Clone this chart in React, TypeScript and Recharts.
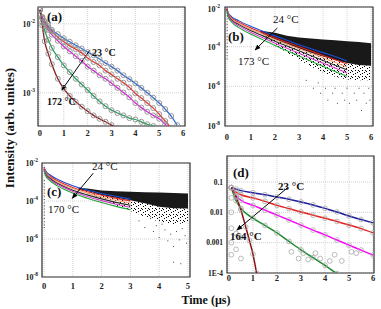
import React from 'react'
import {
  ComposedChart,
  Line,
  Area,
  Scatter,
  XAxis,
  YAxis,
  CartesianGrid,
  ReferenceLine,
  ReferenceArea,
} from 'recharts'

const W = 381
const H = 309
const FONT = '"Liberation Serif", "Times New Roman", serif'

// ---- panel (a): 23 °C -> 172 °C ----
const aT = [0, 0.1, 0.2, 0.35, 0.5, 0.75, 1, 1.25, 1.5, 1.75, 2, 2.25, 2.5, 2.75, 3, 3.25, 3.5, 3.75, 4, 4.25, 4.5, 4.75, 5, 5.25, 5.5, 5.75]
const a23 = [0.016, 0.0126, 0.011, 0.0093, 0.0082, 0.0071, 0.0062, 0.0055, 0.0049, 0.0044, 0.0039, 0.0035, 0.0031, 0.0027, 0.0024, 0.0021, 0.0018, 0.00158, 0.00137, 0.00118, 0.001, 0.00085, 0.00071, 0.00058, 0.00046, 0.00034]
const aRed = [0.016, 0.0124, 0.0106, 0.0089, 0.0078, 0.0064, 0.0055, 0.0048, 0.0043, 0.0038, 0.0032, 0.0028, 0.0025, 0.0021, 0.00185, 0.0016, 0.0014, 0.0012, 0.00098, 0.00084, 0.00071, 0.0006, 0.00049, 0.00039, 0.00031]
const aMagenta = [0.016, 0.012, 0.01, 0.0082, 0.007, 0.0057, 0.0047, 0.004, 0.0034, 0.0029, 0.0024, 0.0021, 0.0018, 0.0016, 0.00138, 0.00118, 0.00101, 0.00086, 0.00071, 0.00061, 0.00053, 0.00047, 0.00042, 0.00035, 0.00028]
const aGreen = [0.016, 0.0105, 0.008, 0.0059, 0.0045, 0.0033, 0.0025, 0.002, 0.0016, 0.00132, 0.0011, 0.0009, 0.00075, 0.00064, 0.00056, 0.00051, 0.00047, 0.00043, 0.00041, 0.00038, 0.00035, 0.00033, 0.00031]
const a172 = [0.016, 0.0095, 0.0056, 0.0037, 0.0026, 0.0016, 0.00115, 0.0009, 0.00074, 0.00063, 0.00054, 0.00047, 0.00042, 0.00038, 0.00034, 0.00031]

// ---- panel (b): 24 °C -> 173 °C ----
const bT = [0, 0.05, 0.2, 0.5, 1, 1.5, 2, 2.5, 3, 3.5, 4, 4.5, 5]
const b24 = [9.5e-3, 5.2e-3, 3.2e-3, 2.0e-3, 1.05e-3, 6.0e-4, 3.5e-4, 2.1e-4, 1.26e-4, 7.9e-5, 5.0e-5, 3.2e-5, 1.9e-5]
const bRed = [8.9e-3, 4.8e-3, 2.75e-3, 1.7e-3, 8.7e-4, 5.0e-4, 2.8e-4, 1.66e-4, 1.0e-4, 6.0e-5, 3.6e-5, 2.2e-5, 1.32e-5]
const bOrange = [8.5e-3, 4.4e-3, 2.5e-3, 1.48e-3, 7.4e-4, 4.2e-4, 2.3e-4, 1.35e-4, 7.9e-5, 4.7e-5, 2.75e-5, 1.62e-5, 9.5e-6]
const bDark = [7.9e-3, 4.0e-3, 2.2e-3, 1.29e-3, 6.3e-4, 3.5e-4, 1.9e-4, 1.07e-4, 6.2e-5, 3.5e-5, 2.0e-5, 1.17e-5, 6.8e-6]
const bMagenta = [7.4e-3, 3.6e-3, 2.0e-3, 1.12e-3, 5.2e-4, 2.8e-4, 1.5e-4, 8.3e-5, 4.7e-5, 2.6e-5, 1.48e-5, 8.3e-6, 4.7e-6]
const b173 = [6.8e-3, 3.2e-3, 1.7e-3, 9.1e-4, 4.2e-4, 2.2e-4, 1.15e-4, 6.2e-5, 3.4e-5, 1.86e-5, 1.02e-5, 5.6e-6, 3.2e-6]
const bCloudT = [1.4, 2, 2.5, 3, 3.5, 4, 4.5, 5, 5.5, 6]
const bCloudTop = [6.3e-4, 5.0e-4, 3.6e-4, 2.9e-4, 2.6e-4, 2.3e-4, 2.1e-4, 1.9e-4, 1.7e-4, 1.5e-4]
const bCloudCore = [5.0e-4, 2.3e-4, 1.3e-4, 8e-5, 5e-5, 3.2e-5, 2.1e-5, 1.5e-5, 1.2e-5, 1.1e-5]
const bCloudFloor = [4.8e-4, 1.2e-4, 5e-5, 2.2e-5, 1e-5, 5e-6, 3e-6, 2.2e-6, 2e-6, 2e-6]
const bStreak = [7e-3, 5e-3, 3.5e-3, 2.5e-3, 1.8e-3, 1.3e-3, 9e-4, 6.5e-4, 4.5e-4, 3.2e-4, 2.2e-4, 1.5e-4, 1e-4, 7e-5, 5e-5, 3.5e-5, 2.4e-5]
const bSparse = [
  [3.6, 8e-7], [3.9, 4.5e-7], [4.1, 8e-7], [4.2, 2e-7], [4.4, 4.5e-7], [4.5, 8e-7], [4.6, 1.4e-7],
  [4.8, 4.5e-7], [4.9, 2e-7], [5.0, 8e-7], [5.1, 1.4e-7], [5.3, 4.5e-7], [5.4, 2e-7], [5.5, 8e-7],
  [5.6, 6e-8], [5.7, 4.5e-7], [5.8, 1.4e-7], [5.9, 8e-7], [5.95, 2e-7], [3.3, 2e-6], [3.8, 1.5e-6],
]

// ---- panel (c): 24 °C -> 170 °C ----
const cT = [0, 0.05, 0.2, 0.5, 1, 1.5, 2, 2.5, 3]
const c24 = [6.3e-3, 4.0e-3, 2.4e-3, 1.32e-3, 6.3e-4, 3.8e-4, 2.5e-4, 1.78e-4, 1.26e-4]
const cRed = [5.6e-3, 3.5e-3, 2.0e-3, 1.1e-3, 5.2e-4, 3.1e-4, 2.0e-4, 1.38e-4, 1.0e-4]
const cOrange = [5.2e-3, 3.2e-3, 1.82e-3, 9.5e-4, 4.5e-4, 2.6e-4, 1.62e-4, 1.1e-4, 7.8e-5]
const cDark = [4.8e-3, 2.8e-3, 1.58e-3, 8.1e-4, 3.7e-4, 2.1e-4, 1.29e-4, 8.5e-5, 6.0e-5]
const cMagenta = [4.5e-3, 2.5e-3, 1.38e-3, 7.1e-4, 3.2e-4, 1.74e-4, 1.05e-4, 6.8e-5, 4.7e-5]
const c170 = [4.0e-3, 2.2e-3, 1.17e-3, 5.9e-4, 2.6e-4, 1.41e-4, 8.3e-5, 5.2e-5, 3.5e-5]
const cCloudT = [1.2, 1.5, 2, 2.5, 3, 3.5, 4, 4.5, 5]
const cCloudTop = [5.0e-4, 4.6e-4, 3.6e-4, 3.3e-4, 3.1e-4, 2.9e-4, 2.8e-4, 2.6e-4, 2.5e-4]
const cCloudCore = [4.2e-4, 3.4e-4, 2.1e-4, 1.5e-4, 1.1e-4, 7.5e-5, 5e-5, 4.2e-5, 4e-5]
const cCloudFloor = [4e-4, 2.8e-4, 1.3e-4, 6e-5, 3e-5, 1.5e-5, 8e-6, 6e-6, 7e-6]
const cStreak = [1.2e-3, 8e-4, 5.5e-4, 3.8e-4, 2.6e-4, 1.8e-4, 1.2e-4, 8e-5, 5.5e-5, 3.8e-5, 2.6e-5, 1.8e-5, 1.2e-5, 8e-6, 5.5e-6, 4e-6]
const cSparse = [
  [3.3, 9e-6], [3.5, 4e-6], [3.7, 1.5e-5], [3.8, 2.5e-6], [4.0, 1.2e-6], [4.1, 6e-6], [4.2, 3e-6],
  [4.3, 8e-7], [4.4, 1.8e-6], [4.5, 4e-7], [4.6, 2.5e-6], [4.7, 9e-7], [4.8, 3.5e-6], [4.9, 1.5e-6],
  [4.95, 6e-7], [4.5, 6e-8], [4.75, 5e-8], [3.9, 5e-6],
]

// ---- panel (d): 23 °C -> 164 °C ----
const dT = [0.1, 0.3, 0.5, 1, 1.5, 2, 2.5, 3, 3.5, 4, 4.5, 5, 5.5, 6]
const d23 = [0.065, 0.058, 0.052, 0.044, 0.038, 0.032, 0.027, 0.022, 0.0175, 0.0135, 0.0103, 0.0076, 0.0058, 0.0045]
const dRed = [0.065, 0.046, 0.038, 0.03, 0.023, 0.017, 0.0133, 0.0103, 0.0081, 0.0064, 0.005, 0.0038, 0.0029, 0.0021]
const dMagenta = [0.065, 0.035, 0.025, 0.017, 0.0118, 0.0081, 0.0056, 0.0038, 0.0026, 0.0018, 0.00122, 0.00083, 0.00057, 0.00039]
const dGreen = [0.065, 0.024, 0.0135, 0.0064, 0.0037, 0.0021, 0.0011, 0.00058, 0.00032, 0.00018, 0.000095]
const d164T = [0.1, 0.3, 0.5, 0.7, 0.85, 1, 1.15]
const d164 = [0.065, 0.032, 0.012, 0.0033, 0.0012, 0.00042, 0.0001]
const dNoise = [
  [0.1, 0.03], [0.1, 0.01], [0.1, 0.003], [0.1, 0.001], [0.1, 4e-4], [0.3, 2e-3], [0.3, 6e-4],
  [0.5, 1.5e-3], [0.5, 3e-4], [2.6, 5e-4], [2.9, 3e-4], [3.1, 4.5e-4], [3.3, 2.8e-4], [3.6, 4.5e-4],
  [3.8, 3e-4], [4.2, 2.5e-4], [4.4, 4e-4], [4.7, 2.5e-4], [5.1, 5e-4], [5.3, 4.5e-4],
]

// arrows (data coords, from -> to)
const arrowA = [[2.1, 4.2e-3], [0.92, 1.1e-3]]
const arrowB = [[2.1, 8.7e-4], [1.17, 6.8e-5]]
const arrowC = [[1.71, 2.9e-3], [0.98, 1.37e-4]]
const arrowD = [[2.42, 0.063], [0.33, 2.6e-3]]

const xTicks6 = [0, 1, 2, 3, 4, 5, 6]
const xTicks5 = [0, 1, 2, 3, 4, 5]
const dTicks = [1e-4, 1e-3, 1e-2, 0.1]
const dTickLabels = ['1E-4', '0.001', '0.01', '0.1']

const rows = (ts: number[], vs: number[]) => vs.map((v, i) => ({ t: ts[i], v }))
const pts = (list: number[][]) => list.map(([t, v]) => ({ t, v }))
const band = (ts: number[], lo: number[], hi: number[]) => ts.map((t, i) => ({ t, lo: lo[i], hi: hi[i] }))
const seg = (a: number[][]) => a.map(([x, y]) => ({ x, y }))

function PowTick(props: any) {
  const { x, y, payload } = props
  const exp = Math.round(Math.log10(payload.value))
  return (
    <text x={x} y={y + 3} textAnchor="end" fontFamily={FONT} fontWeight="bold" fontSize={8} fill="#222">
      10<tspan dy={-4} fontSize={5.5}>{exp}</tspan>
    </text>
  )
}

function DTick(props: any) {
  const { x, y, payload } = props
  const i = dTicks.findIndex((v) => Math.abs(v - payload.value) / v < 1e-6)
  return (
    <text x={x} y={y + 2.5} textAnchor="end" fontFamily={FONT} fontWeight="bold" fontSize={7.5} fill="#222">
      {dTickLabels[i]}
    </text>
  )
}

const speck = (p: any) => <rect x={p.cx - 0.5} y={p.cy - 0.5} width={1} height={1} fill="#444" />
const ring = (p: any) => <circle cx={p.cx} cy={p.cy} r={2.4} fill="none" stroke="#aaa" strokeWidth={0.8} />

function Panel(props: any) {
  const { box, xDomain, xTicks, yDomain, yTicks, yTick, xTickMargin, yTickMargin, id, children } = props
  return (
    <div style={{ position: 'absolute', left: 0, top: 0 }}>
      <ComposedChart
        width={W}
        height={H}
        margin={{ top: box.top, left: box.left - 30, right: W - box.right, bottom: H - box.bottom - 20 }}
      >
        <defs>
          <marker id={id} viewBox="0 0 10 10" refX="9" refY="5" markerWidth="6" markerHeight="6" orient="auto">
            <path d="M0,1 L10,5 L0,9 z" fill="#000" />
          </marker>
          <pattern id={id + 'spk'} width="7" height="6" patternUnits="userSpaceOnUse">
            <rect x="0" y="0" width="1" height="1" fill="#000" />
            <rect x="3" y="2" width="1" height="1" fill="#000" />
            <rect x="5" y="4" width="1" height="1" fill="#000" />
            <rect x="1" y="4" width="1" height="1" fill="#000" />
            <rect x="5" y="1" width="1" height="1" fill="#000" />
            <rect x="2" y="5" width="1" height="1" fill="#000" />
          </pattern>
        </defs>
        <CartesianGrid stroke="#d2d2d2" strokeDasharray="1 1" />
        <XAxis
          type="number"
          dataKey="t"
          domain={xDomain}
          ticks={xTicks}
          allowDataOverflow
          height={20}
          tickSize={0}
          tickMargin={xTickMargin}
          axisLine={false}
          tickLine={false}
          tick={{ fontSize: 8.5, fontWeight: 'bold', fill: '#222', fontFamily: FONT }}
        />
        <YAxis
          type="number"
          scale="log"
          domain={yDomain}
          ticks={yTicks}
          allowDataOverflow
          width={30}
          tickSize={0}
          tickMargin={yTickMargin}
          axisLine={false}
          tickLine={false}
          tick={yTick}
        />
        {children}
        <ReferenceArea
          x1={xDomain[0]}
          x2={xDomain[1]}
          y1={yDomain[0]}
          y2={yDomain[1]}
          fill="none"
          fillOpacity={0}
          stroke="#333"
          strokeWidth={1.2}
          ifOverflow="visible"
        />
      </ComposedChart>
    </div>
  )
}

function Note({ x, y, size, bold, children }: any) {
  return (
    <div
      style={{
        position: 'absolute',
        left: x,
        top: y - size * 0.55,
        fontFamily: FONT,
        fontSize: size,
        fontWeight: bold ? 'bold' : 'normal',
        lineHeight: 1,
        whiteSpace: 'nowrap',
        color: '#111',
      }}
    >
      {children}
    </div>
  )
}

const aDot = { r: 2.5, stroke: '#8c8c8c', strokeWidth: 0.9, fill: 'none' }
const dDot = { r: 2.4, stroke: '#a8a8a8', strokeWidth: 0.8, fill: 'none' }

function fitLine(key: string, data: any[], color: string, width: number, dot: any) {
  return (
    <Line
      key={key}
      data={data}
      dataKey="v"
      type="monotone"
      stroke={color}
      strokeWidth={width}
      dot={dot}
      isAnimationActive={false}
    />
  )
}

function cloud(key: string, data: any[], fill: string, opacity: number) {
  return (
    <Area
      key={key}
      data={data}
      dataKey={(d: any) => [d.lo, d.hi]}
      type="linear"
      stroke="none"
      fill={fill}
      fillOpacity={opacity}
      isAnimationActive={false}
    />
  )
}

function arrow(key: string, a: number[][], id: string) {
  return (
    <ReferenceLine
      key={key}
      segment={seg(a)}
      stroke="#000"
      strokeWidth={1}
      markerEnd={`url(#${id})`}
      ifOverflow="visible"
    />
  )
}

const bColors = ['#1f4ed8', '#e32626', '#f2a070', '#2b2b2b', '#d23fc8', '#1fa83a']

export default function App() {
  return (
    <div style={{ position: 'absolute', left: 0, top: 0, width: W, height: H, background: '#fff', fontFamily: FONT }}>
      <Panel
        id="arrA"
        box={{ left: 38, right: 185, top: 7, bottom: 126 }}
        xDomain={[-0.08, 6.08]}
        xTicks={xTicks6}
        yDomain={[3.3e-4, 0.0176]}
        yTicks={[1e-3, 1e-2]}
        yTick={<PowTick />}
        xTickMargin={4}
        yTickMargin={3}
      >
        {fitLine('a1', rows(aT, a23), '#2f6fd6', 1.3, aDot)}
        {fitLine('a2', rows(aT, aRed), '#e8332a', 1.3, aDot)}
        {fitLine('a3', rows(aT, aMagenta), '#e020e0', 1.3, aDot)}
        {fitLine('a4', rows(aT, aGreen), '#1fa05a', 1.3, aDot)}
        {fitLine('a5', rows(aT, a172), '#8b1c1c', 1.3, aDot)}
        {arrow('aa', arrowA, 'arrA')}
      </Panel>

      <Panel
        id="arrB"
        box={{ left: 225, right: 373, top: 7, bottom: 126 }}
        xDomain={[-0.08, 6.08]}
        xTicks={xTicks6}
        yDomain={[1e-8, 1e-2]}
        yTicks={[1e-8, 1e-6, 1e-4, 1e-2]}
        yTick={<PowTick />}
        xTickMargin={8}
        yTickMargin={5}
      >
        {cloud('bs', band(bCloudT, bCloudFloor, bCloudCore), 'url(#arrBspk)', 1)}
        {[b24, bRed, bOrange, bDark, bMagenta, b173].map((vs, i) =>
          fitLine('b' + i, rows(bT, vs), bColors[i], 1.1, false)
        )}
        {cloud('bc', band(bCloudT, bCloudCore, bCloudTop), '#000', 0.9)}
        <Scatter data={bStreak.map((v) => ({ t: 0.01, v }))} dataKey="v" shape={speck} isAnimationActive={false} />
        <Scatter data={pts(bSparse)} dataKey="v" shape={speck} isAnimationActive={false} />
        {arrow('ba', arrowB, 'arrB')}
      </Panel>

      <Panel
        id="arrC"
        box={{ left: 42, right: 190, top: 163, bottom: 277 }}
        xDomain={[-0.07, 5.07]}
        xTicks={xTicks5}
        yDomain={[1e-8, 1e-2]}
        yTicks={[1e-8, 1e-7, 1e-6, 1e-5, 1e-4, 1e-3, 1e-2]}
        yTick={<PowTick />}
        xTickMargin={6}
        yTickMargin={4}
      >
        {cloud('cs', band(cCloudT, cCloudFloor, cCloudCore), 'url(#arrCspk)', 1)}
        {[c24, cRed, cOrange, cDark, cMagenta, c170].map((vs, i) =>
          fitLine('c' + i, rows(cT, vs), bColors[i], 1.1, false)
        )}
        {cloud('cc', band(cCloudT, cCloudCore, cCloudTop), '#000', 0.9)}
        <Scatter data={cStreak.map((v) => ({ t: 0.01, v }))} dataKey="v" shape={speck} isAnimationActive={false} />
        <Scatter data={pts(cSparse)} dataKey="v" shape={speck} isAnimationActive={false} />
        {arrow('ca', arrowC, 'arrC')}
      </Panel>

      <Panel
        id="arrD"
        box={{ left: 227, right: 374, top: 156, bottom: 273 }}
        xDomain={[-0.08, 6.04]}
        xTicks={xTicks6}
        yDomain={[1e-4, 0.72]}
        yTicks={dTicks}
        yTick={<DTick />}
        xTickMargin={2}
        yTickMargin={4}
      >
        <Scatter data={pts(dNoise)} dataKey="v" shape={ring} isAnimationActive={false} />
        {fitLine('d1', rows(dT, d23), '#1c1c9c', 1.5, dDot)}
        {fitLine('d2', rows(dT, dRed), '#e82020', 1.5, dDot)}
        {fitLine('d3', rows(dT, dMagenta), '#ff00ff', 1.5, dDot)}
        {fitLine('d4', rows(dT, dGreen), '#1a8a2a', 1.5, dDot)}
        {fitLine('d5', rows(d164T, d164), '#8a1010', 1.5, dDot)}
        {arrow('da', arrowD, 'arrD')}
      </Panel>

      <Note x={47} y={17} size={13} bold>(a)</Note>
      <Note x={92} y={53} size={10} bold>23 °C</Note>
      <Note x={47} y={102} size={10} bold>172 °C</Note>

      <Note x={228} y={37} size={13} bold>(b)</Note>
      <Note x={273} y={20} size={11}>24 °C</Note>
      <Note x={238} y={62} size={11}>173 °C</Note>

      <Note x={47} y={192} size={13} bold>(c)</Note>
      <Note x={92} y={167} size={11}>24 °C</Note>
      <Note x={48} y={210} size={11}>170 °C</Note>

      <Note x={233} y={173} size={13} bold>(d)</Note>
      <Note x={278} y={187} size={11} bold>23 °C</Note>
      <Note x={230} y={237} size={11} bold>164 °C</Note>

      <div
        style={{
          position: 'absolute',
          left: 9,
          top: 128,
          transform: 'translate(-50%, -50%) rotate(-90deg)',
          fontFamily: FONT,
          fontSize: 13,
          fontWeight: 'bold',
          whiteSpace: 'nowrap',
          lineHeight: 1,
          color: '#111',
        }}
      >
        Intensity (arb. unites)
      </div>
      <div
        style={{
          position: 'absolute',
          left: 206,
          top: 300,
          transform: 'translate(-50%, -50%)',
          fontFamily: FONT,
          fontSize: 12,
          fontWeight: 'bold',
          whiteSpace: 'nowrap',
          lineHeight: 1,
          color: '#111',
        }}
      >
        Time (µs)
      </div>
    </div>
  )
}
